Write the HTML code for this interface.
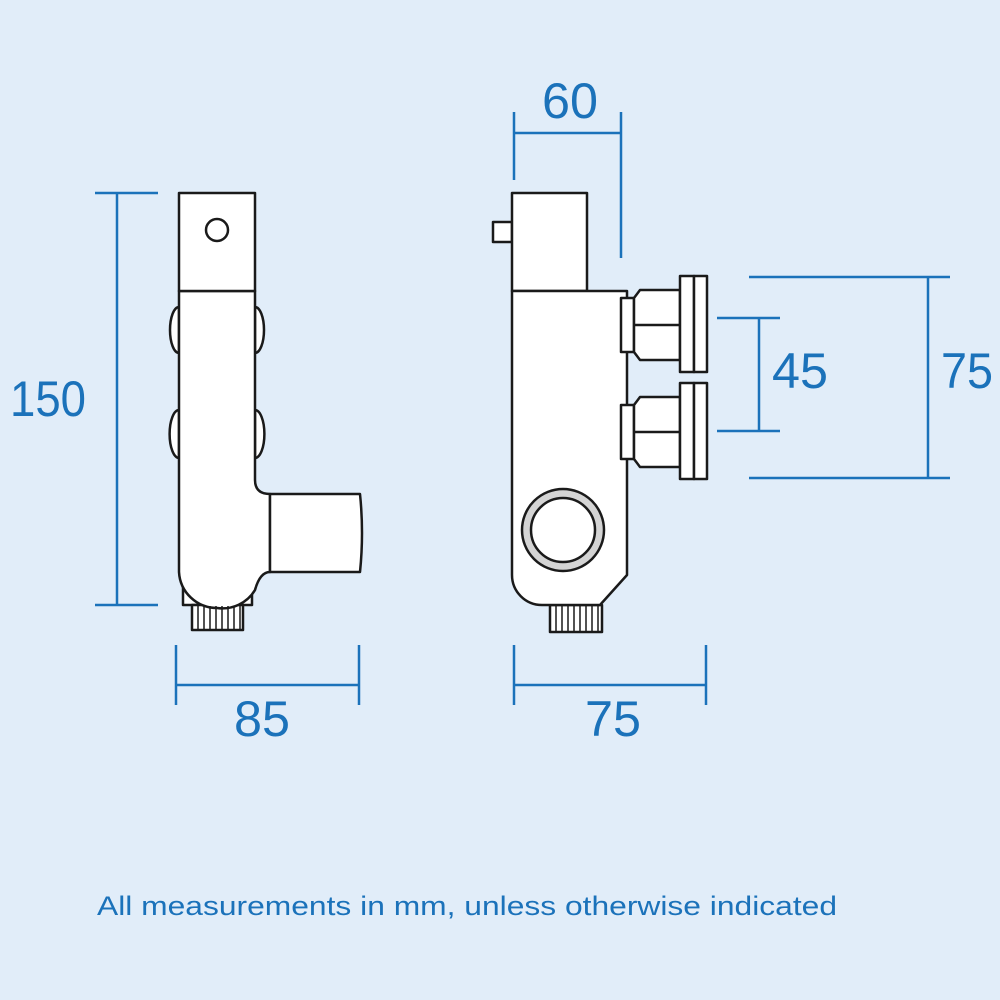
<!DOCTYPE html>
<html><head><meta charset="utf-8"><style>
html,body{margin:0;padding:0;background:#e1edf9;}
svg{display:block}
</style></head><body>
<svg width="1000" height="1000" viewBox="0 0 1000 1000" xmlns="http://www.w3.org/2000/svg">
<rect width="1000" height="1000" fill="#e1edf9"/>
<g fill="#fff" stroke="#1a1a1a" stroke-width="2.5" stroke-linejoin="round">
  <!-- LEFT VIEW -->
  <path d="M179 307 A9 23 0 0 0 179 353 Z"/>
  <path d="M179 410 A9 23 0 0 0 179 458 Z"/>
  <path d="M255 307 A9 23 0 0 1 255 353 Z"/>
  <path d="M255 410 A9 23 0 0 1 255 458 Z"/>
  <rect x="183" y="586" width="69" height="19"/>
  <rect x="192" y="605" width="51" height="25"/>
  <path d="M179 291 L179 572 A38 38 0 0 0 217 608 A38 38 0 0 0 255 590 Q260 572 270 572 L270 494 Q255 494 255 480 L255 291 Z"/>
  <path d="M270 494 L360 494 Q364 533 360 572 L270 572 Z"/>
  <rect x="179" y="193" width="76" height="98"/>
  <circle cx="217" cy="230" r="11"/>
  <!-- RIGHT VIEW -->
  <rect x="493" y="222" width="19" height="20"/>
  <rect x="512" y="193" width="75" height="98"/>
  <rect x="550" y="605" width="52" height="27"/>
  <path d="M512 291 L627 291 L627 575 L600 605 L542 605 A30 30 0 0 1 512 575 Z"/>
  <circle cx="563" cy="530" r="41" fill="#d4d4d4"/>
  <circle cx="563" cy="530" r="32"/>
  <!-- connectors -->
  <g>
    <rect x="621" y="298" width="13" height="54"/>
    <path d="M634 298 L640 290 L680 290 L680 360 L640 360 L634 352 Z"/>
    <line x1="634" y1="325" x2="680" y2="325"/>
    <rect x="680" y="276" width="14" height="96"/>
    <rect x="694" y="276" width="13" height="96"/>
  </g>
  <g transform="translate(0,107)">
    <rect x="621" y="298" width="13" height="54"/>
    <path d="M634 298 L640 290 L680 290 L680 360 L640 360 L634 352 Z"/>
    <line x1="634" y1="325" x2="680" y2="325"/>
    <rect x="680" y="276" width="14" height="96"/>
    <rect x="694" y="276" width="13" height="96"/>
  </g>
</g>
<g stroke="#1a1a1a" stroke-width="1.5">
  <path d="M198 606V629M204 606V629M210 606V629M216 606V629M222 606V629M228 606V629M234 606V629M240 606V629"/>
  <path d="M556 606V631M562 606V631M568 606V631M574 606V631M580 606V631M586 606V631M592 606V631M598 606V631"/>
</g>
<g stroke="#1b72ba" stroke-width="2.5" fill="none">
  <line x1="95" y1="193" x2="158" y2="193"/>
  <line x1="95" y1="605" x2="158" y2="605"/>
  <line x1="117" y1="193" x2="117" y2="605"/>
  <line x1="176" y1="645" x2="176" y2="705"/>
  <line x1="359" y1="645" x2="359" y2="705"/>
  <line x1="176" y1="685" x2="359" y2="685"/>
  <line x1="514" y1="645" x2="514" y2="705"/>
  <line x1="706" y1="645" x2="706" y2="705"/>
  <line x1="514" y1="685" x2="706" y2="685"/>
  <line x1="514" y1="112" x2="514" y2="180"/>
  <line x1="621" y1="112" x2="621" y2="258"/>
  <line x1="514" y1="133" x2="621" y2="133"/>
  <line x1="717" y1="318" x2="780" y2="318"/>
  <line x1="717" y1="431" x2="780" y2="431"/>
  <line x1="759" y1="318" x2="759" y2="431"/>
  <line x1="749" y1="277" x2="950" y2="277"/>
  <line x1="749" y1="478" x2="950" y2="478"/>
  <line x1="928" y1="277" x2="928" y2="478"/>
</g>
<g fill="#1b72ba" font-family="'Liberation Sans', sans-serif" font-size="50">
  <text x="10" y="416" textLength="76" lengthAdjust="spacingAndGlyphs">150</text>
  <text x="234" y="736" textLength="56" lengthAdjust="spacingAndGlyphs">85</text>
  <text x="585" y="736" textLength="56" lengthAdjust="spacingAndGlyphs">75</text>
  <text x="542" y="118" textLength="56" lengthAdjust="spacingAndGlyphs">60</text>
  <text x="772" y="388" textLength="56" lengthAdjust="spacingAndGlyphs">45</text>
  <text x="941" y="388" textLength="52" lengthAdjust="spacingAndGlyphs">75</text>
  <text x="97" y="915" font-size="27" textLength="740" lengthAdjust="spacingAndGlyphs">All measurements in mm, unless otherwise indicated</text>
</g>
</svg>
</body></html>
